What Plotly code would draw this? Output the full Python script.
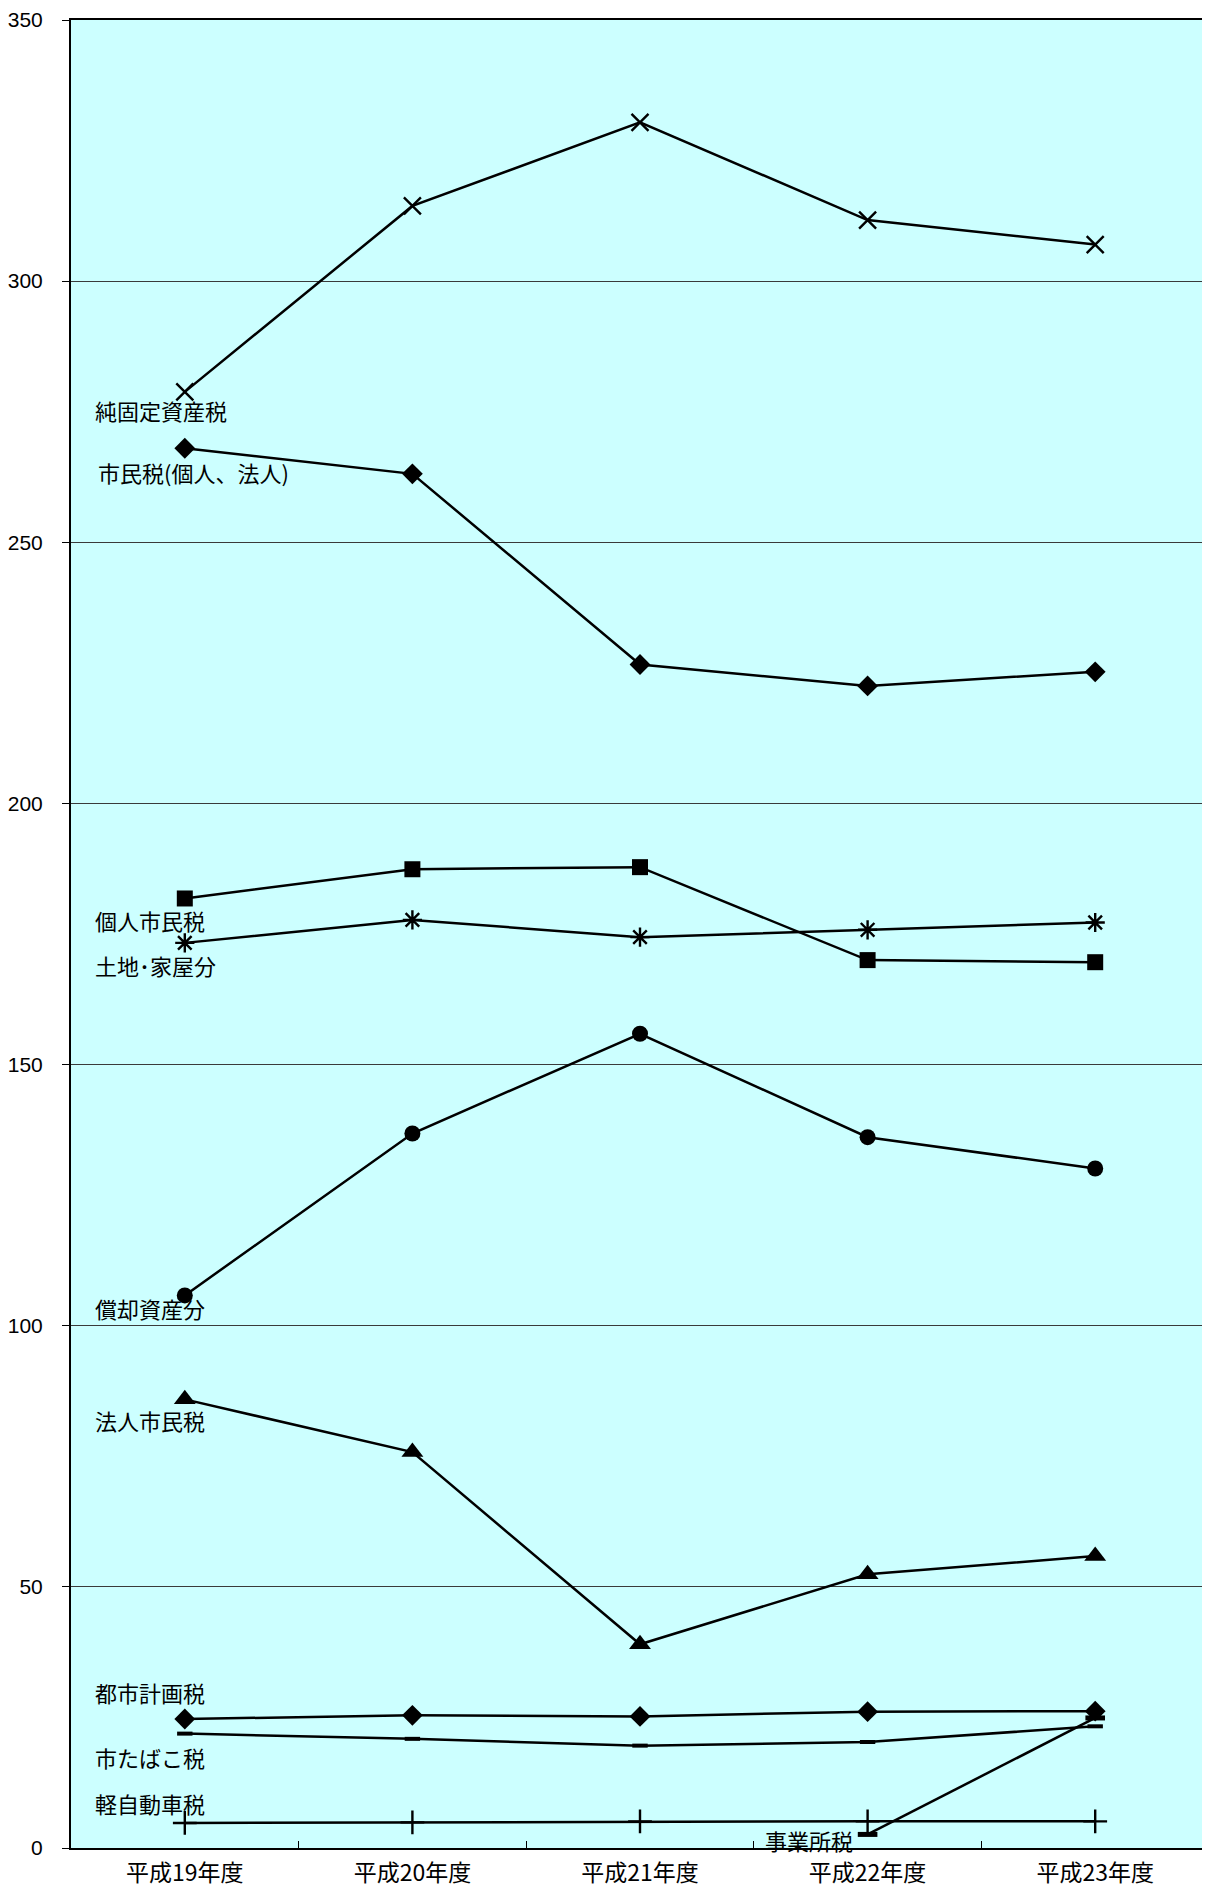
import plotly.graph_objects as go

categories = ["平成19年度", "平成20年度", "平成21年度", "平成22年度", "平成23年度"]

junkotei = [278.8, 314.4, 330.4, 311.7, 307.0]      # 純固定資産税
shiminzei = [268.0, 263.1, 226.6, 222.5, 225.2]     # 市民税(個人、法人)
kojin = [181.8, 187.4, 187.8, 170.0, 169.6]         # 個人市民税
tochi = [173.3, 177.7, 174.4, 175.8, 177.2]         # 土地･家屋分
shokyaku = [105.8, 136.8, 155.9, 136.1, 130.1]      # 償却資産分
hojin = [85.9, 75.8, 39.0, 52.4, 55.9]              # 法人市民税
toshikeikaku = [24.7, 25.4, 25.2, 26.1, 26.2]       # 都市計画税
tabako = [21.9, 20.9, 19.6, 20.3, 23.3]             # 市たばこ税
keijidosha = [4.8, 4.9, 5.1, 5.1, 5.1]              # 軽自動車税
jigyosho = [None, None, None, 2.6, 24.9]            # 事業所税

y_ticks = [0, 50, 100, 150, 200, 250, 300, 350]

FONT = "Noto Sans CJK JP"

series = [
    ("純固定資産税", junkotei, dict(symbol="x-thin-open", size=17, line=dict(width=2.4, color="black"))),
    ("市民税(個人、法人)", shiminzei, dict(symbol="diamond", size=16, color="black")),
    ("個人市民税", kojin, dict(symbol="square", size=16, color="black")),
    ("土地･家屋分", tochi, dict(symbol="asterisk-open", size=16, line=dict(width=2.4, color="black"))),
    ("償却資産分", shokyaku, dict(symbol="circle", size=16, color="black")),
    ("法人市民税", hojin, dict(symbol="triangle-up", size=19, color="black")),
    ("都市計画税", toshikeikaku, dict(symbol="diamond", size=16, color="black")),
    ("市たばこ税", tabako, dict(symbol="line-ew-open", size=11, line=dict(width=4, color="black"))),
    ("軽自動車税", keijidosha, dict(symbol="cross-thin-open", size=17, line=dict(width=2.4, color="black"))),
    ("事業所税", jigyosho, dict(symbol="line-ew-open", size=14, line=dict(width=5, color="black"))),
]

fig = go.Figure()
for name, vals, mk in series:
    fig.add_trace(go.Scatter(
        x=categories, y=vals, name=name, mode="lines+markers",
        line=dict(color="black", width=2.5), marker=mk, connectgaps=False,
        showlegend=False,
    ))

labels = [
    ("純固定資産税", 0.0195, 275.4),
    ("市民税(個人、法人)", 0.0222, 263.5),
    ("個人市民税", 0.0195, 177.7),
    ("土地･家屋分", 0.0195, 169.1),
    ("償却資産分", 0.0195, 103.3),
    ("法人市民税", 0.0195, 82.0),
    ("都市計画税", 0.0195, 29.8),
    ("市たばこ税", 0.0195, 17.5),
    ("軽自動車税", 0.0195, 8.7),
    ("事業所税", 0.608, 1.6),
]
for text, xp, yv in labels:
    fig.add_annotation(
        x=xp, xref="paper", y=yv, yref="y", text=text, showarrow=False,
        xanchor="left", yanchor="middle",
        font=dict(family=FONT, size=22, color="black"),
    )

fig.update_layout(
    width=1202, height=1884,
    margin=dict(l=63, r=1, t=12, b=44),
    paper_bgcolor="white", plot_bgcolor="#CCFFFF",
    font=dict(family=FONT, color="black"),
)
fig.update_xaxes(
    type="category", range=[-0.5, 4.5], automargin=False,
    showline=True, linecolor="black", linewidth=2, mirror=True,
    ticks="inside", tickson="boundaries", ticklen=7, tickcolor="black", tickwidth=1,
    showgrid=False, tickfont=dict(family=FONT, size=23, color="black"),
    ticklabelstandoff=3,
)
fig.update_yaxes(
    range=[0, 350], tickvals=y_ticks, ticktext=[str(v) for v in y_ticks],
    automargin=False,
    showline=True, linecolor="black", linewidth=2, mirror=True,
    ticks="outside", ticklen=7, tickcolor="black", tickwidth=1,
    showgrid=True, gridcolor="#3a3a3a", gridwidth=1, zeroline=False,
    tickfont=dict(family="Liberation Sans", size=21, color="black"),
    ticklabelstandoff=15,
)

fig.write_html("out.html")
